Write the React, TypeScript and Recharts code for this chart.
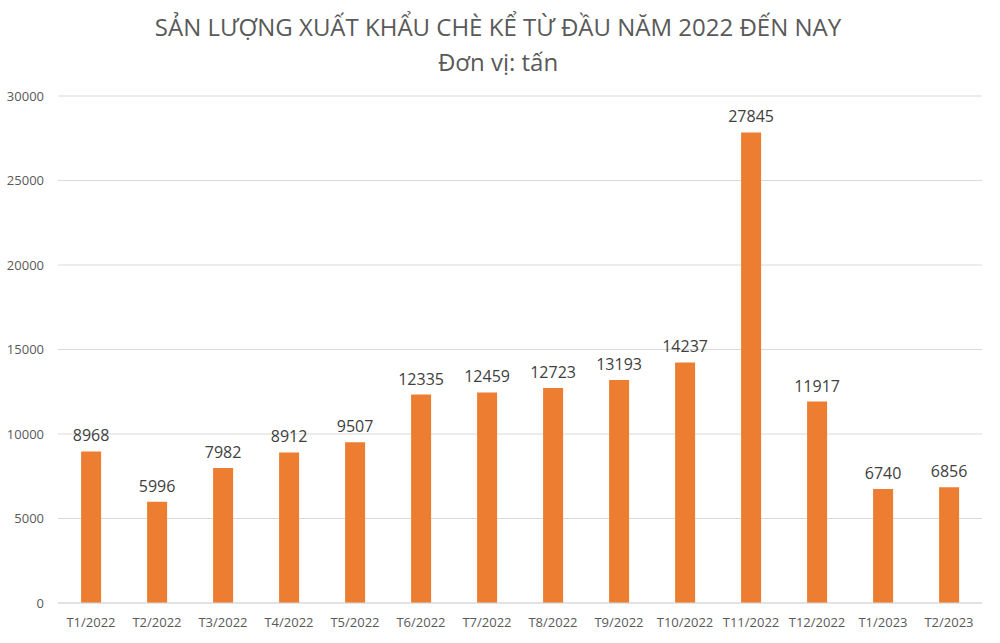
import React from 'react';
import { Bar, BarChart, CartesianGrid, LabelList, XAxis, YAxis } from 'recharts';

const months = [
  'T1/2022', 'T2/2022', 'T3/2022', 'T4/2022', 'T5/2022', 'T6/2022', 'T7/2022',
  'T8/2022', 'T9/2022', 'T10/2022', 'T11/2022', 'T12/2022', 'T1/2023', 'T2/2023',
];
const volumes = [8968, 5996, 7982, 8912, 9507, 12335, 12459, 12723, 13193, 14237, 27845, 11917, 6740, 6856];
const yTicks = [0, 5000, 10000, 15000, 20000, 25000, 30000];

const font = '"Open Sans", "Noto Sans", sans-serif';

export default function App() {
  const data = months.map((month, i) => ({ month, value: volumes[i] }));

  return (
    <div style={{ position: 'relative', width: 1000, height: 643, background: '#fff', fontFamily: font }}>
      <style>{'body { margin: 0; }'}</style>
      <div
        style={{
          position: 'absolute',
          top: 9,
          left: 0,
          width: 996,
          textAlign: 'center',
          color: '#595959',
          fontSize: 24,
          lineHeight: '35px',
        }}
      >
        <div>SẢN LƯỢNG XUẤT KHẨU CHÈ KỂ TỪ ĐẦU NĂM 2022 ĐẾN NAY</div>
        <div>Đơn vị: tấn</div>
      </div>
      <BarChart
        width={1000}
        height={643}
        data={data}
        margin={{ top: 96, right: 18, left: 0, bottom: 10 }}
        barCategoryGap="35%"
        style={{ position: 'absolute', top: 0, left: 0 }}
      >
        <CartesianGrid vertical={false} stroke="#d9d9d9" />
        <XAxis
          dataKey="month"
          height={30}
          axisLine={{ stroke: '#d9d9d9' }}
          tickLine={false}
          tickSize={0}
          tickMargin={15}
          tick={{ fill: '#595959', fontSize: 13, fontFamily: font }}
          interval={0}
        />
        <YAxis
          width={58}
          domain={[0, 30000]}
          ticks={yTicks}
          axisLine={false}
          tickLine={false}
          tickSize={0}
          tickMargin={14}
          tick={{ fill: '#595959', fontSize: 13, fontFamily: font }}
        />
        <Bar dataKey="value" fill="#ED7D31" isAnimationActive={false}>
          <LabelList
            dataKey="value"
            position="top"
            offset={10}
            fill="#404040"
            fontSize={16}
            fontFamily={font}
          />
        </Bar>
      </BarChart>
    </div>
  );
}
